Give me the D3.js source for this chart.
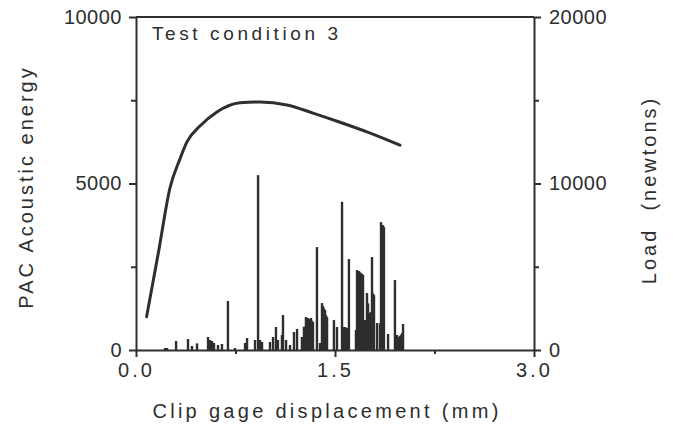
<!DOCTYPE html>
<html>
<head>
<meta charset="utf-8">
<script src="https://cdn.jsdelivr.net/npm/d3@7"></script>
<style>
  html, body { margin: 0; padding: 0; background: #fff; }
  svg text { font-family: "Liberation Sans", Arial, Helvetica, sans-serif; fill: #2e2e2e; }
</style>
</head>
<body>
<svg id="chart" width="673" height="426"></svg>
<script>
// ---- Data ----
const xTickValues = [0, 1.5, 3.0];
const xTickLabels = ["0.0", "1.5", "3.0"];
const leftTickValues = [0, 5000, 10000];
const leftTickLabels = ["0", "5000", "10000"];
const rightTickValues = [0, 10000, 20000];
const rightTickLabels = ["0", "10000", "20000"];

// Load curve (right axis, newtons)
const loadDisp = [0.08, 0.17, 0.256, 0.33, 0.384, 0.482, 0.61, 0.784, 0.935, 1.138, 1.334, 1.538, 1.741, 1.99];
const loadVal  = [2000, 5900, 9730, 11450, 12500, 13450, 14300, 14850, 14900, 14720, 14230, 13680, 13100, 12300];

// Acoustic energy events (left axis)
const aeDisp = [0.219, 0.234, 0.302, 0.392, 0.422, 0.460, 0.543, 0.558, 0.573, 0.588, 0.618, 0.648,
  0.693, 0.746, 0.822, 0.837, 0.897, 0.920, 0.935, 0.950, 1.010, 1.033, 1.055, 1.070, 1.100,
  1.108, 1.131, 1.161, 1.191, 1.214, 1.251, 1.266, 1.281, 1.296, 1.304, 1.311, 1.319, 1.326, 1.334,
  1.364, 1.387, 1.402, 1.410, 1.417, 1.425, 1.432, 1.440, 1.492, 1.515, 1.553, 1.560, 1.568, 1.575,
  1.583, 1.590, 1.605, 1.658, 1.666, 1.673, 1.681, 1.689, 1.696, 1.704, 1.711, 1.726, 1.741, 1.749,
  1.756, 1.764, 1.771, 1.779, 1.786, 1.794, 1.817, 1.839, 1.847, 1.854, 1.862, 1.869, 1.900, 1.952,
  1.967, 1.982, 1.990, 1.997, 2.005, 2.013];
const aeEnergy = [60, 60, 270, 330, 120, 200, 390, 300, 270, 210, 150, 180,
  1470, 60, 210, 360, 300, 5250, 300, 240, 240, 390, 690, 300, 450,
  1050, 300, 150, 540, 630, 390, 700, 990, 960, 930, 900, 960, 880, 840,
  3090, 210, 1410, 1320, 1250, 1200, 1050, 990, 900, 690, 4450, 690, 680, 690,
  670, 660, 2730, 600, 2400, 2350, 2370, 2330, 2310, 2280, 2250, 900, 1710, 1400,
  1110, 1100, 1140, 2790, 1700, 1650, 810, 800, 3840, 3500, 3750, 3690, 480, 2100,
  450, 390, 420, 450, 510, 780];

// ---- Chart ----
const svg = d3.select("#chart");
const ink = "#2e2e2e";

const x = d3.scaleLinear().domain([0, 3]).range([136, 534]);
const yE = d3.scaleLinear().domain([0, 10000]).range([350, 17]);
const yL = d3.scaleLinear().domain([0, 20000]).range([350, 17]);

// Top border
svg.append("line").attr("x1", x(0)).attr("x2", x(3)).attr("y1", yE(10000)).attr("y2", yE(10000))
  .attr("stroke", ink).attr("stroke-width", 2);

function styleAxis(g) {
  g.selectAll("path.domain").attr("stroke", ink).attr("stroke-width", 2);
  g.selectAll(".tick line").attr("stroke", ink).attr("stroke-width", 2);
}

// Left axis
const leftAxis = d3.axisLeft(yE).tickValues(leftTickValues)
  .tickFormat((d, i) => leftTickLabels[i]).tickSize(7).tickSizeOuter(0).tickPadding(7);
const gL = svg.append("g").attr("transform", `translate(${x(0)},0)`).call(leftAxis);
styleAxis(gL);
gL.selectAll("text").attr("font-size", 20).attr("fill", ink).style("letter-spacing", "0.5px");
svg.append("g").attr("transform", `translate(${x(0)},0)`)
  .call(d3.axisLeft(yE).tickValues([2500, 7500]).tickFormat("").tickSize(5).tickSizeOuter(0))
  .call(g => g.select(".domain").remove()).call(styleAxis);

// Right axis
const rightAxis = d3.axisRight(yL).tickValues(rightTickValues)
  .tickFormat((d, i) => rightTickLabels[i]).tickSize(7).tickSizeOuter(0).tickPadding(8);
const gR = svg.append("g").attr("transform", `translate(${x(3)},0)`).call(rightAxis);
styleAxis(gR);
gR.selectAll("text").attr("font-size", 20).attr("fill", ink).style("letter-spacing", "0.5px");
svg.append("g").attr("transform", `translate(${x(3)},0)`)
  .call(d3.axisRight(yL).tickValues([5000, 15000]).tickFormat("").tickSize(5).tickSizeOuter(0))
  .call(g => g.select(".domain").remove()).call(styleAxis);

// Bottom axis
const bottomAxis = d3.axisBottom(x).tickValues(xTickValues)
  .tickFormat((d, i) => xTickLabels[i]).tickSize(7).tickSizeOuter(0).tickPadding(6);
const gB = svg.append("g").attr("transform", `translate(0,${yE(0)})`).call(bottomAxis);
styleAxis(gB);
gB.selectAll("text").attr("font-size", 20).attr("fill", ink).style("letter-spacing", "3px");
svg.append("g").attr("transform", `translate(0,${yE(0)})`)
  .call(d3.axisBottom(x).tickValues([0.75, 2.25]).tickFormat("").tickSize(4).tickSizeOuter(0))
  .call(g => g.select(".domain").remove()).call(styleAxis);

// Acoustic energy bars
const ae = aeDisp.map((d, i) => ({ x: d, e: aeEnergy[i] }));
svg.append("g").selectAll("rect").data(ae).join("rect")
  .attr("x", d => x(d.x) - 1.2)
  .attr("width", 2.4)
  .attr("y", d => yE(d.e))
  .attr("height", d => yE(0) - yE(d.e))
  .attr("fill", ink);

// Load curve
const load = loadDisp.map((d, i) => ({ x: d, v: loadVal[i] }));
svg.append("path").datum(load)
  .attr("fill", "none").attr("stroke", ink).attr("stroke-width", 3)
  .attr("stroke-linecap", "round")
  .attr("d", d3.line().x(d => x(d.x)).y(d => yL(d.v)).curve(d3.curveMonotoneX));

// Texts
svg.append("text").attr("x", 152).attr("y", 40).attr("font-size", 19)
  .style("letter-spacing", "3.6px").text("Test condition 3");

svg.append("text").attr("x", 327).attr("y", 418).attr("text-anchor", "middle")
  .attr("font-size", 20).style("letter-spacing", "3.3px").text("Clip gage displacement (mm)");

svg.append("text").attr("transform", "translate(33,187) rotate(-90)").attr("text-anchor", "middle")
  .attr("font-size", 20).style("letter-spacing", "3px").text("PAC Acoustic energy");

svg.append("text").attr("transform", "translate(656,190) rotate(-90)").attr("text-anchor", "middle")
  .attr("font-size", 20).style("letter-spacing", "3px").style("white-space", "pre").text("Load  (newtons)");
</script>
</body>
</html>
